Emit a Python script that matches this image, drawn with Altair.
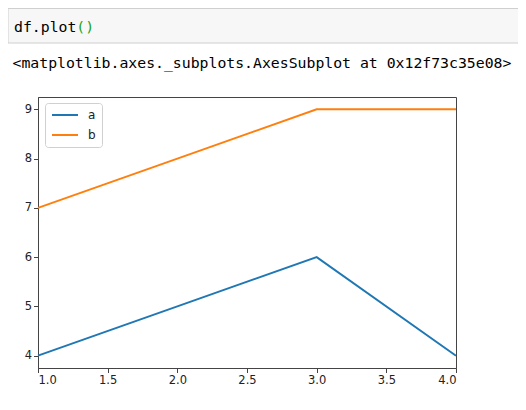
import altair as alt
import pandas as pd

x_vals = [1, 2, 3, 4]
series_a = [4, 5, 6, 4]
series_b = [7, 8, 9, 9]
series_names = ["a", "b"]
series_colors = ["#1f77b4", "#ff7f0e"]
x_ticks = [1.0, 1.5, 2.0, 2.5, 3.0, 3.5, 4.0]
y_ticks = [4, 5, 6, 7, 8, 9]
code_text = "df.plot"
code_paren = "()"
out_text = "<matplotlib.axes._subplots.AxesSubplot at 0x12f73c35e08>"

rows = []
for name, vals in zip(series_names, [series_a, series_b]):
    for xv, yv in zip(x_vals, vals):
        rows.append({"x": xv, "series": name, "value": yv})
df = pd.DataFrame(rows)

W, H = 418, 271
mono = "DejaVu Sans Mono"
fs = 14.8
cw = 0.602 * fs

lines = alt.Chart(df).mark_line(strokeWidth=1.9).encode(
    x=alt.X("x:Q", scale=alt.Scale(domain=[1, 4], nice=False, zero=False),
            axis=alt.Axis(values=x_ticks, format=".1f", title=None, grid=False)),
    y=alt.Y("value:Q", scale=alt.Scale(domain=[3.75, 9.25], nice=False, zero=False),
            axis=alt.Axis(values=y_ticks, format="d", title=None, grid=False)),
    color=alt.Color("series:N",
                    scale=alt.Scale(domain=series_names, range=series_colors),
                    legend=alt.Legend(title=None, orient="none", legendX=7, legendY=6,
                                      symbolType="stroke", symbolSize=676,
                                      symbolStrokeWidth=2, labelFontSize=12,
                                      labelFont="DejaVu Sans", labelColor="#222",
                                      labelOffset=9, padding=6, rowPadding=8,
                                      clipHeight=12,
                                      fillColor="white", strokeColor="#d0d0d0",
                                      cornerRadius=3)),
)

cell = alt.Chart(pd.DataFrame({"k": [0]})).mark_rect(
    fill="#f7f7f7", stroke="#cfcfcf", strokeWidth=1
).encode(x=alt.value(-30), x2=alt.value(500), y=alt.value(-88.5), y2=alt.value(-54))

code1 = alt.Chart(pd.DataFrame({"t": [code_text]})).mark_text(
    font=mono, fontSize=fs, align="left", baseline="alphabetic", color="#000"
).encode(text="t:N", x=alt.value(-24), y=alt.value(-65.5))

code2 = alt.Chart(pd.DataFrame({"t": [code_paren]})).mark_text(
    font=mono, fontSize=fs, align="left", baseline="alphabetic", color="#1aa31a"
).encode(text="t:N", x=alt.value(-24 + 7 * cw), y=alt.value(-65.5))

outt = alt.Chart(pd.DataFrame({"t": [out_text]})).mark_text(
    font=mono, fontSize=fs, align="left", baseline="alphabetic", color="#000"
).encode(text="t:N", x=alt.value(-25.5), y=alt.value(-29.5))

chart = alt.layer(cell, code1, code2, outt, lines).properties(
    width=W, height=H,
    autosize=alt.AutoSizeParams(type="none"),
    padding={"left": 30, "top": 89, "right": 62, "bottom": 38},
).configure_view(stroke="#444", strokeWidth=1).configure_axis(
    labelFont="DejaVu Sans", labelFontSize=11.5, labelColor="#222",
    domainColor="#444", tickColor="#444", tickSize=4.5, labelPadding=2,
)

chart.save("out.html", embed_options={"renderer": "svg", "actions": False})
